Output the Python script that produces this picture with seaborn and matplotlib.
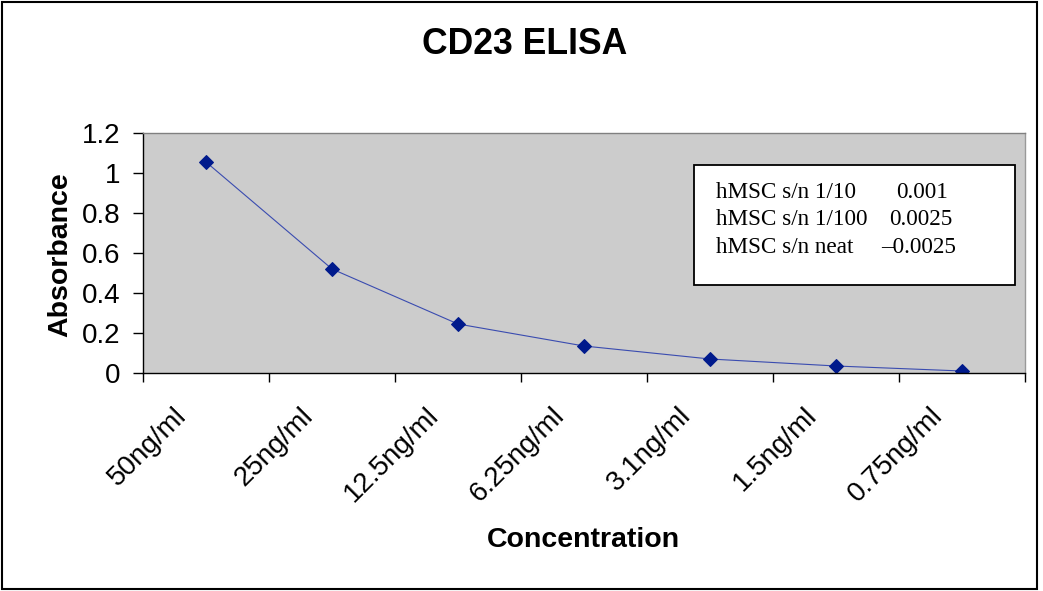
import matplotlib
matplotlib.use("Agg")
import matplotlib.pyplot as plt
from matplotlib.patches import Rectangle
from matplotlib.transforms import blended_transform_factory, ScaledTranslation
import seaborn as sns
import pandas as pd

# ---- data ----
concentrations = ["50ng/ml", "25ng/ml", "12.5ng/ml", "6.25ng/ml", "3.1ng/ml", "1.5ng/ml", "0.75ng/ml"]
absorbance = [1.055, 0.52, 0.245, 0.135, 0.07, 0.035, 0.01]
sample_labels = ["hMSC s/n 1/10", "hMSC s/n 1/100", "hMSC s/n neat"]
sample_values = ["0.001", "0.0025", "\u20130.0025"]
y_ticks = [0, 0.2, 0.4, 0.6, 0.8, 1, 1.2]
y_tick_labels = ["0", "0.2", "0.4", "0.6", "0.8", "1", "1.2"]

sns.set_style("white")
plt.rcParams["font.family"] = ["Liberation Sans", "DejaVu Sans"]
plt.rcParams["text.color"] = "black"
plt.rcParams["axes.labelcolor"] = "black"
plt.rcParams["xtick.color"] = "black"
plt.rcParams["ytick.color"] = "black"

W, H = 1043, 591
fig = plt.figure(figsize=(W / 100, H / 100), dpi=100)
ax = fig.add_axes([143 / W, 1 - 373 / H, (1025 - 143) / W, (373 - 133) / H])
ax.set_facecolor("#CCCCCC")

df = pd.DataFrame({"conc": concentrations, "abs": absorbance})
sns.lineplot(data=df, x="conc", y="abs", sort=False, ax=ax,
             color="#3A4CB0", linewidth=0.8, marker="D", markersize=7.5,
             markerfacecolor="#001A8C", markeredgecolor="#001A8C")

n = len(concentrations)
ax.set_xlim(-0.5, n - 0.5)
ax.set_ylim(0, 1.2)
ax.set_xticks([i - 0.5 for i in range(n + 1)])
ax.set_xticklabels([])
ax.tick_params(axis="x", which="major", direction="out", length=6.5, width=1, color="black", bottom=True)

# category labels, rotated, anchored below each category centre
trans = blended_transform_factory(ax.transData, ax.transAxes) + \
    ScaledTranslation(-23 / 100, -39 / 100, fig.dpi_scale_trans)
for i, cat in enumerate(concentrations):
    ax.text(i, 0, cat, transform=trans, rotation=45, rotation_mode="anchor",
            ha="right", va="center", fontsize=20, color="black", clip_on=False)

ax.set_yticks(y_ticks, labels=y_tick_labels)
ax.tick_params(axis="y", direction="out", length=7, width=1, color="black", left=True,
               labelsize=20, pad=9.5, labelcolor="black")

ax.spines["left"].set_color("black")
ax.spines["bottom"].set_color("black")
ax.spines["top"].set_color("#808080")
ax.spines["right"].set_color("#999999")
for s in ax.spines.values():
    s.set_linewidth(1)

ax.set_xlabel("")
ax.set_ylabel("")
fig.text(60 / W, 1 - 255 / H, "Absorbance", rotation=90, ha="center", va="center",
         fontsize=20.5, fontweight="bold")
fig.text(583 / W, 1 - 540 / H, "Concentration", ha="center", va="center",
         fontsize=20.5, fontweight="bold")
fig.text(525 / W, 1 - 45 / H, "CD23 ELISA", ha="center", va="center",
         fontsize=25.6, fontweight="bold")

# legend-like text box
fig.patches.append(Rectangle((694 / W, 1 - 285 / H), 321 / W, 120 / H, transform=fig.transFigure,
                             facecolor="white", edgecolor="black", linewidth=1.3, zorder=5))
baselines = [198, 225, 253]
value_x = [896, 889, 881]
for lab, val, by, vx in zip(sample_labels, sample_values, baselines, value_x):
    fig.text(716 / W, 1 - by / H, lab, ha="left", va="baseline", fontsize=16.7,
             family=["Liberation Serif", "DejaVu Serif"], zorder=6)
    fig.text(vx / W, 1 - by / H, val, ha="left", va="baseline", fontsize=16.7,
             family=["Liberation Serif", "DejaVu Serif"], zorder=6)

# outer frame
fig.patches.append(Rectangle((2 / W, 2 / H), 1035 / W, 587 / H, transform=fig.transFigure,
                             facecolor="none", edgecolor="black", linewidth=1.5))

fig.savefig("out.png", dpi=100)
